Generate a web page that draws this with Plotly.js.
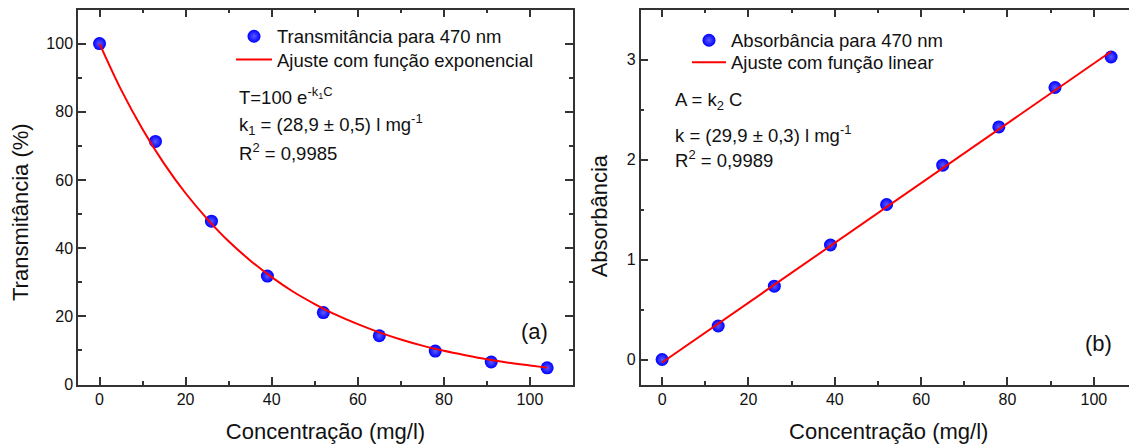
<!DOCTYPE html>
<html>
<head>
<meta charset="utf-8">
<script src="https://cdn.plot.ly/plotly-3.0.1.min.js"></script>
<style>
html, body { margin: 0; padding: 0; overflow: hidden; background: #fff; }
#chart { width: 1140px; height: 448px; }
</style>
</head>
<body>
<div id="chart"></div>
<script>
// ---- data ----
const concentration = [0, 13, 26, 39, 52, 65, 78, 91, 104];
const transmittance = [100, 71.3, 47.9, 31.8, 21.1, 14.3, 9.8, 6.6, 4.9];
const absorbance = [0.0, 0.335, 0.733, 1.145, 1.55, 1.943, 2.326, 2.72, 3.025];

const expFitConc = [0, 5, 10, 15, 20, 25, 30, 35, 40, 45, 50, 55, 60, 65, 70, 75, 80, 85, 90, 95, 100, 104];
const expFitT = [100, 86.5, 74.9, 64.8, 56.1, 48.6, 42.0, 36.4, 31.5, 27.2, 23.6, 20.4, 17.7, 15.3, 13.2, 11.4, 9.9, 8.6, 7.4, 6.4, 5.6, 4.95];

const linFitConc = [0, 104];
const linFitA = [-0.03, 3.08];

const xTitle = 'Concentração (mg/l)';
const yTitleLeft = 'Transmitância (%)';
const yTitleRight = 'Absorbância';
const legendNames = ['Transmitância para 470 nm', 'Ajuste com função exponencial', 'Absorbância para 470 nm', 'Ajuste com função linear'];

// ---- geometry helpers (pixels -> paper) ----
const W = 1140, H = 448;
const px = v => v / W;
const py = v => 1 - v / H;

const FONT = 'Arial, "Liberation Sans", sans-serif';
const TXT = '#111111';
const AX = '#333333';

const markerStyle = {
  size: 13, color: '#0000ff',
  gradient: { type: 'radial', color: '#5a5aff' },
  line: { width: 0 }
};

const traces = [
  { x: concentration, y: transmittance, type: 'scatter', mode: 'markers', name: legendNames[0],
    marker: markerStyle, xaxis: 'x', yaxis: 'y', legend: 'legend' },
  { x: expFitConc, y: expFitT, type: 'scatter', mode: 'lines', name: legendNames[1],
    line: { color: '#ff0000', width: 2, shape: 'spline' }, xaxis: 'x', yaxis: 'y', legend: 'legend2' },
  { x: concentration, y: absorbance, type: 'scatter', mode: 'markers', name: legendNames[2],
    marker: markerStyle, xaxis: 'x2', yaxis: 'y2', legend: 'legend3' },
  { x: linFitConc, y: linFitA, type: 'scatter', mode: 'lines', name: legendNames[3],
    line: { color: '#ff0000', width: 2 }, xaxis: 'x2', yaxis: 'y2', legend: 'legend4' }
];

function axisBase(extra) {
  return Object.assign({
    showline: true, linecolor: AX, linewidth: 1.5, mirror: 'ticks',
    ticks: 'inside', ticklen: 8, tickwidth: 1.5, tickcolor: AX,
    showgrid: false, zeroline: false, automargin: false,
    tickfont: { family: FONT, size: 16, color: TXT }
  }, extra);
}

const yDomain = [1 - 384.5 / H, 1 - 9.5 / H];

function legendAt(xPix, yPix, iw) {
  return {
    x: px(xPix), y: py(yPix), xanchor: 'left', yanchor: 'middle',
    bgcolor: 'rgba(0,0,0,0)', borderwidth: 0, itemwidth: iw,
    font: { family: FONT, size: 18.5, color: TXT }
  };
}

function note(text, xPix, yPix, opts) {
  return Object.assign({
    text: text, xref: 'paper', yref: 'paper', x: px(xPix), y: py(yPix),
    xanchor: 'left', yanchor: 'middle', showarrow: false,
    font: { family: FONT, size: 18.5, color: TXT }
  }, opts || {});
}

const minorTicks = d => ({ dtick: d, ticks: 'inside', ticklen: 4, tickcolor: AX, tickwidth: 1.5 });

const layout = {
  width: W, height: H,
  margin: { l: 0, r: 0, t: 0, b: 0 },
  paper_bgcolor: '#ffffff', plot_bgcolor: '#ffffff',
  font: { family: FONT, color: TXT },
  showlegend: true,
  xaxis: axisBase({ domain: [78 / W, 573 / W], range: [-5, 110], tick0: 0, dtick: 20,
    minor: minorTicks(10),
    title: { text: xTitle, font: { family: FONT, size: 22, color: TXT }, standoff: 16 }, anchor: 'y' }),
  yaxis: axisBase({ domain: yDomain, range: [0, 110], tick0: 0, dtick: 20,
    minor: minorTicks(10), anchor: 'x' }),
  xaxis2: axisBase({ domain: [640.5 / W, 1137 / W], range: [-5, 110], tick0: 0, dtick: 20,
    minor: minorTicks(10),
    title: { text: xTitle, font: { family: FONT, size: 22, color: TXT }, standoff: 16 }, anchor: 'y2' }),
  yaxis2: axisBase({ domain: yDomain, range: [-0.25, 3.5], tick0: 0, dtick: 1,
    minor: minorTicks(0.5), anchor: 'x2' }),
  legend: legendAt(231, 36.7, 36),
  legend2: legendAt(231, 60, 36),
  legend3: legendAt(687, 40.7, 34),
  legend4: legendAt(687, 62.7, 34),
  annotations: [
    note(yTitleLeft, 20, 212, { xanchor: 'center', textangle: -90, font: { family: FONT, size: 22, color: TXT } }),
    note(yTitleRight, 599.3, 216, { xanchor: 'center', textangle: -90, font: { family: FONT, size: 22, color: TXT } }),
    note('T=100 e<sup>-k<sub>1</sub>C</sup>', 236.7, 96),
    note('k<sub>1</sub> = (28,9 ± 0,5) l mg<sup>-1</sup>', 236.7, 124),
    note('R<sup>2</sup> = 0,9985', 236.7, 151.7),
    note('A = k<sub>2</sub> C', 673.3, 101),
    note('k = (29,9 ± 0,3) l mg<sup>-1</sup>', 673.3, 134.3),
    note('R<sup>2</sup> = 0,9989', 673.3, 159.3),
    note('(a)', 534, 331, { xanchor: 'center', font: { family: FONT, size: 22, color: TXT } }),
    note('(b)', 1098, 343, { xanchor: 'center', font: { family: FONT, size: 22, color: TXT } })
  ]
};

Plotly.newPlot('chart', traces, layout, { displayModeBar: false, responsive: false });
</script>
</body>
</html>
